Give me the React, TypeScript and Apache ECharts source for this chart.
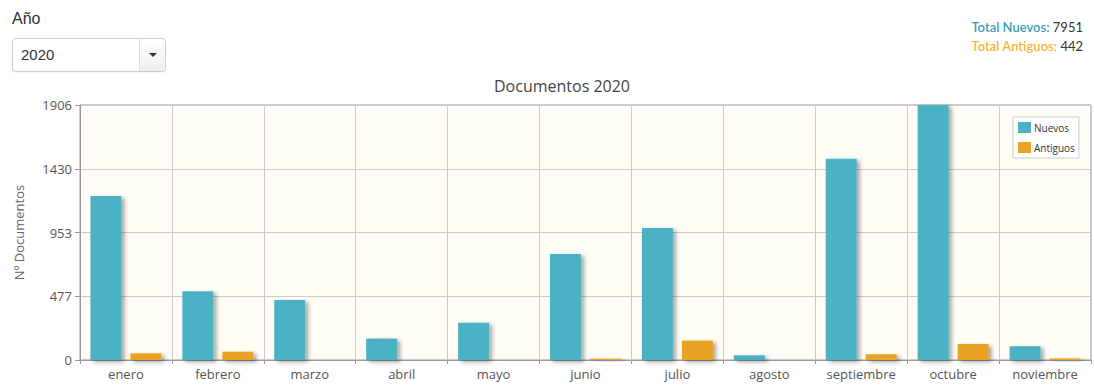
import React, { useEffect, useRef } from "react";
import * as echarts from "echarts";

const months = ["enero", "febrero", "marzo", "abril", "mayo", "junio", "julio", "agosto", "septiembre", "octubre", "noviembre"];
const nuevos = [1225, 513, 448, 160, 279, 792, 986, 35, 1505, 1906, 102];
const antiguos = [50, 62, 0, 0, 0, 10, 145, 0, 43, 120, 12];
const yMax = 1906;
const yInterval = 476.5;
const totalNuevos = 7951;
const totalAntiguos = 442;
const selectedYear = "2020";

const CHART_FONT = "'Open Sans', 'DejaVu Sans', sans-serif";

export default function App() {
  const ref = useRef<HTMLDivElement>(null);

  useEffect(() => {
    document.body.style.margin = "0";
    const chart = echarts.init(ref.current!, null, { renderer: "svg" });
    const shadow = {
      shadowColor: "rgba(0,0,0,0.35)",
      shadowBlur: 4,
      shadowOffsetX: 3,
      shadowOffsetY: 2,
    };
    chart.setOption({
      animation: false,
      textStyle: { fontFamily: CHART_FONT },
      title: {
        text: "Documentos " + selectedYear,
        left: 557,
        textAlign: "center",
        top: 73,
        textStyle: { fontSize: 16, fontWeight: "normal", color: "#444", fontFamily: CHART_FONT },
      },
      legend: {
        orient: "vertical",
        left: 1013,
        top: 117,
        itemWidth: 13,
        itemHeight: 11,
        itemGap: 9,
        padding: [5, 4, 5, 5],
        borderColor: "#ccc",
        borderWidth: 1,
        backgroundColor: "#fff",
        icon: "rect",
        textStyle: { fontSize: 10, color: "#333", fontFamily: CHART_FONT, padding: [0, 0, 0, -2] },
        data: ["Nuevos", "Antiguos"],
      },
      grid: {
        left: 80,
        right: 3,
        top: 105,
        bottom: 25,
        show: true,
        backgroundColor: "#fffdf6",
        borderColor: "#999",
        borderWidth: 1,
      },
      xAxis: {
        type: "category",
        data: months,
        axisLine: { lineStyle: { color: "#999" } },
        axisTick: { show: true, length: 4, lineStyle: { color: "#999" } },
        axisLabel: { color: "#555", fontSize: 13, margin: 7 },
        splitLine: { show: true, lineStyle: { color: "#ccc" } },
      },
      yAxis: {
        type: "value",
        min: 0,
        max: yMax,
        interval: yInterval,
        name: "Nº Documentos",
        nameLocation: "middle",
        nameGap: 55,
        nameTextStyle: { color: "#666", fontSize: 13 },
        axisLine: { show: true, lineStyle: { color: "#999" } },
        axisTick: { show: true, length: 5, lineStyle: { color: "#999" } },
        axisLabel: {
          color: "#555",
          fontSize: 13,
          margin: 8,
          formatter: (v: number) => String(Math.round(v)),
        },
        splitLine: { show: true, lineStyle: { color: "#ccc" } },
      },
      series: [
        {
          name: "Nuevos",
          type: "bar",
          data: nuevos,
          barWidth: 31,
          barGap: "29%",
          itemStyle: { color: "#4bb2c5", ...shadow },
        },
        {
          name: "Antiguos",
          type: "bar",
          data: antiguos,
          barWidth: 31,
          barGap: "29%",
          itemStyle: { color: "#eaa228", ...shadow },
        },
      ],
    });
    return () => chart.dispose();
  }, []);

  const headerFont = "Lato, 'Open Sans', sans-serif";
  const formFont = "'Liberation Sans', Arial, sans-serif";

  return (
    <div style={{ position: "relative", width: 1094, height: 385, background: "#fff", overflow: "hidden" }}>
      <div ref={ref} style={{ position: "absolute", left: 0, top: 0, width: 1094, height: 385 }} />
      <div style={{ position: "absolute", left: 12, top: 10, fontFamily: formFont, fontSize: 16, color: "#333" }}>Año</div>
      <div
        style={{
          position: "absolute",
          left: 12,
          top: 38,
          width: 154,
          height: 34,
          boxSizing: "border-box",
          border: "1px solid #ccc",
          borderRadius: 4,
          background: "#fff",
          fontFamily: formFont,
          fontSize: 15,
          color: "#333",
          boxShadow: "0 1px 1px rgba(0,0,0,0.05)",
        }}
      >
        <span style={{ position: "absolute", left: 8, top: 7 }}>{selectedYear}</span>
        <div
          style={{
            position: "absolute",
            right: 0,
            top: 0,
            width: 25,
            height: 32,
            borderLeft: "1px solid #ddd",
            background: "linear-gradient(#fff, #eee)",
            borderRadius: "0 4px 4px 0",
          }}
        >
          <div
            style={{
              position: "absolute",
              left: 9,
              top: 14,
              width: 0,
              height: 0,
              borderLeft: "4px solid transparent",
              borderRight: "4px solid transparent",
              borderTop: "4px solid #333",
            }}
          />
        </div>
      </div>
      <div
        style={{
          position: "absolute",
          right: 11,
          top: 18,
          textAlign: "right",
          fontFamily: headerFont,
          fontSize: 13,
          lineHeight: "19px",
          color: "#333",
        }}
      >
        <div>
          <span style={{ color: "#3a9fb5", fontWeight: 600 }}>Total Nuevos:</span> {totalNuevos}
        </div>
        <div>
          <span style={{ color: "#f5b43a", fontWeight: 600 }}>Total Antiguos:</span> {totalAntiguos}
        </div>
      </div>
    </div>
  );
}
